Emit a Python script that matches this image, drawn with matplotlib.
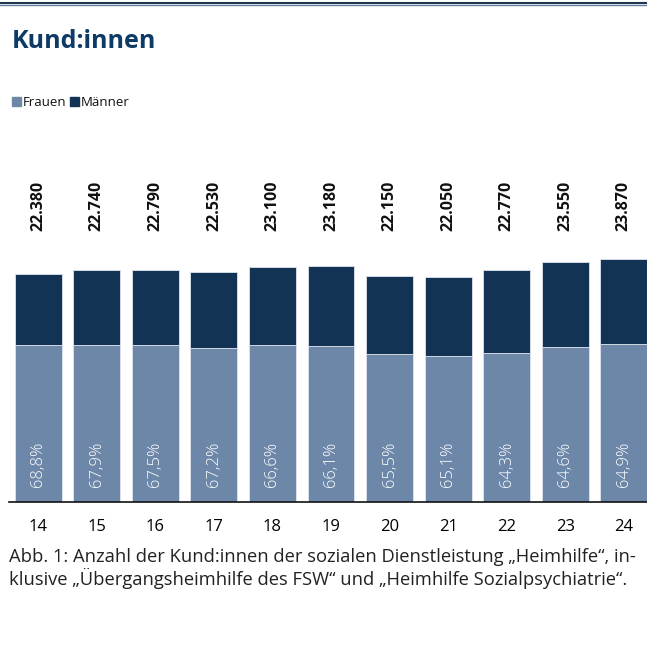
import matplotlib.pyplot as plt
from matplotlib.lines import Line2D
from matplotlib.patches import Rectangle

years = ['14', '15', '16', '17', '18', '19', '20', '21', '22', '23', '24']
totals = [22380, 22740, 22790, 22530, 23100, 23180, 22150, 22050, 22770, 23550, 23870]
frauen_pct = [68.8, 67.9, 67.5, 67.2, 66.6, 66.1, 65.5, 65.1, 64.3, 64.6, 64.9]

frauen = [t * p / 100 for t, p in zip(totals, frauen_pct)]
maenner = [t - f for t, f in zip(totals, frauen)]

c_frauen = '#6d87a9'
c_maenner = '#133355'
c_title = '#0e3a66'

plt.rcParams['font.family'] = ['Open Sans', 'DejaVu Sans']

fig = plt.figure(figsize=(6.47, 6.56), dpi=100)
ax = fig.add_axes([9 / 647, 154 / 656, 644 / 647, 0.466])

x = range(len(years))
ax.bar(x, frauen, width=0.8, color=c_frauen, edgecolor='#dde4ee', linewidth=0.6)
ax.bar(x, maenner, bottom=frauen, width=0.8, color=c_maenner, edgecolor='#dde4ee', linewidth=0.6)

for i in x:
    ax.text(i, 26600, f'{totals[i]:,}'.replace(',', '.'), rotation=90, ha='center', va='bottom',
            fontsize=11.5, fontweight='bold', color='#111111')
    ax.text(i, 1500, f'{frauen_pct[i]:.1f}%'.replace('.', ','), rotation=90, ha='center', va='bottom',
            fontsize=12, fontweight='light', color='white')

ax.set_xlim(-0.5, 10.5)
ax.set_ylim(0, 30000)
ax.set_yticks([])
ax.set_xticks(list(x))
ax.set_xticklabels(years, fontsize=12)
ax.tick_params(axis='x', length=0, pad=12)
for s in ['top', 'right', 'left']:
    ax.spines[s].set_visible(False)
ax.spines['bottom'].set_color('#111111')
ax.spines['bottom'].set_linewidth(1.2)

# top rule
fig.add_artist(Line2D([0, 1], [1 - 3 / 656, 1 - 3 / 656], color='#1f3550', linewidth=1.5))
fig.add_artist(Line2D([0, 1], [1 - 4.5 / 656, 1 - 4.5 / 656], color='#5f7fa3', linewidth=1))

fig.text(12 / 647, 1 - 42 / 656, 'Kund:innen', fontsize=18, fontweight='bold', color=c_title, va='center')

# legend
fig.add_artist(Rectangle((12 / 647, 1 - 106 / 656), 9 / 647, 9 / 656, color=c_frauen, transform=fig.transFigure))
fig.text(23 / 647, 1 - 102 / 656, 'Frauen', fontsize=9.5, va='center', color='#111111')
fig.add_artist(Rectangle((70 / 647, 1 - 106 / 656), 9 / 647, 9 / 656, color=c_maenner, transform=fig.transFigure))
fig.text(81 / 647, 1 - 102 / 656, 'Männer', fontsize=9.5, va='center', color='#111111')

fig.text(9 / 647, 1 - 557 / 656, 'Abb. 1: Anzahl der Kund:innen der sozialen Dienstleistung \u201eHeimhilfe\u201c, in-',
         fontsize=13.2, va='center', color='#222222')
fig.text(9 / 647, 1 - 578 / 656, 'klusive \u201e\u00dcbergangsheimhilfe des FSW\u201c und \u201eHeimhilfe Sozialpsychiatrie\u201c.',
         fontsize=13.2, va='center', color='#222222')

fig.savefig('out.png', dpi=100)
